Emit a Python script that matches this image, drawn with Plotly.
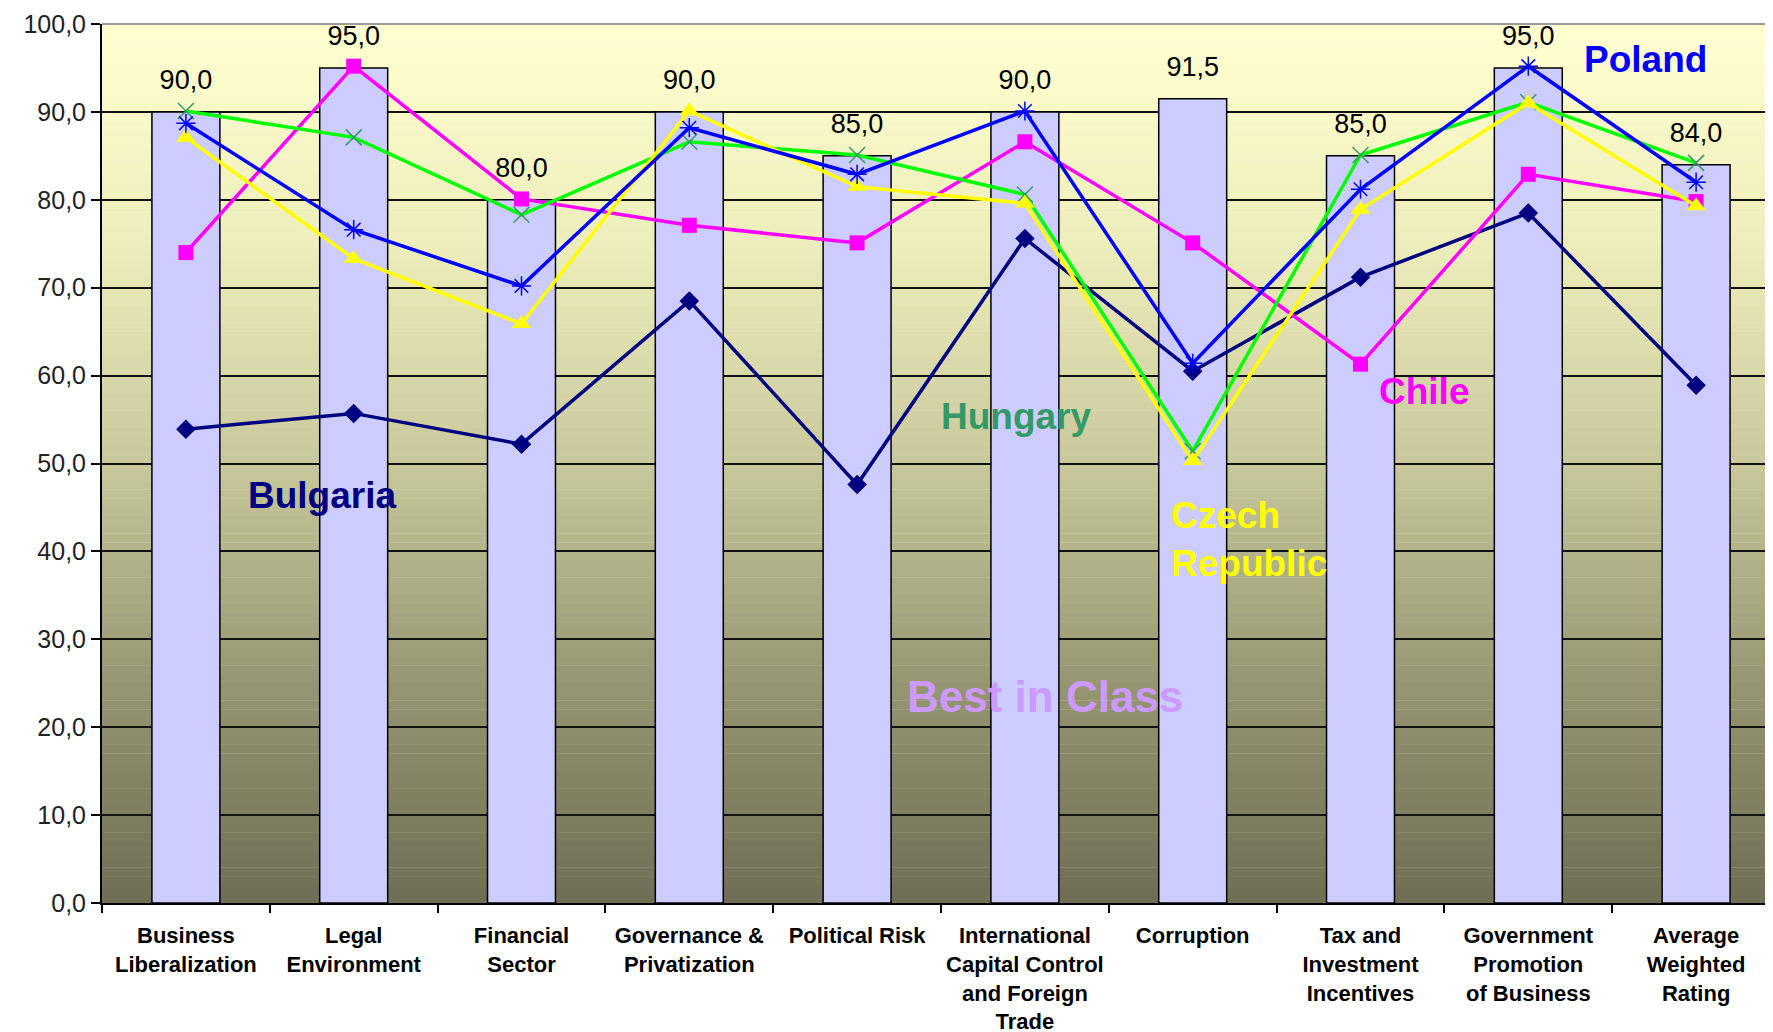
import plotly.graph_objects as go

categories = ["Business<br>Liberalization", "Legal<br>Environment", "Financial<br>Sector",
              "Governance &<br>Privatization", "Political Risk",
              "International<br>Capital Control<br>and Foreign<br>Trade", "Corruption",
              "Tax and<br>Investment<br>Incentives", "Government<br>Promotion<br>of Business",
              "Average<br>Weighted<br>Rating"]
best_in_class = [90.0, 95.0, 80.0, 90.0, 85.0, 90.0, 91.5, 85.0, 95.0, 84.0]
bulgaria = [53.9, 55.7, 52.2, 68.5, 47.6, 75.6, 60.5, 71.2, 78.5, 58.9]
chile = [74.0, 95.2, 80.1, 77.1, 75.1, 86.6, 75.1, 61.3, 82.9, 79.8]
hungary = [90.1, 87.1, 78.3, 86.6, 85.1, 80.6, 51.4, 85.1, 91.1, 84.2]
czech = [87.1, 73.3, 65.9, 90.1, 81.5, 79.6, 50.3, 78.9, 91.0, 79.3]
poland = [88.7, 76.6, 70.2, 88.2, 82.9, 90.1, 61.4, 81.2, 95.2, 82.0]
y_ticks = [0, 10, 20, 30, 40, 50, 60, 70, 80, 90, 100]

x_idx = list(range(len(categories)))

fig = go.Figure()

fig.add_trace(go.Bar(
    x=x_idx, y=best_in_class, name="Best in Class",
    marker=dict(color="#CCCCFF", line=dict(color="#000000", width=1.5)),
    hoverinfo="skip",
))

# data labels above bars
fig.add_trace(go.Scatter(
    x=x_idx, y=best_in_class, mode="markers+text",
    text=[f"{v:.1f}".replace(".", ",") for v in best_in_class],
    textposition="top center",
    textfont=dict(family="Liberation Sans, Arial, sans-serif", size=27, color="#000000"),
    marker=dict(size=24, color="rgba(0,0,0,0)"),
    cliponaxis=False,
    hoverinfo="skip", showlegend=False,
))

series = [
    ("Bulgaria", bulgaria, "#000080", dict(symbol="diamond", size=15, color="#000080")),
    ("Chile", chile, "#FF00FF", dict(symbol="square", size=15, color="#FF00FF")),
    ("Hungary", hungary, "#00FF00", dict(symbol="x-thin-open", size=16, color="#339966",
                                         line=dict(color="#339966", width=1.5))),
    ("Czech Republic", czech, "#FFFF00", dict(symbol="triangle-up", size=17, color="#FFFF00")),
    ("Poland", poland, "#0000FF", dict(symbol="asterisk-open", size=16, color="#0000FF",
                                       line=dict(color="#0000FF", width=1.5))),
]
for name, vals, col, mk in series:
    fig.add_trace(go.Scatter(
        x=x_idx, y=vals, name=name, mode="lines+markers",
        line=dict(color=col, width=3.5), marker=mk, cliponaxis=False,
    ))

# gradient plot background via bands
stops = [(0, (110, 110, 84)), (25, (150, 150, 114)), (50, (200, 200, 156)),
         (75, (238, 238, 188)), (100, (255, 255, 208))]

def col_at(v):
    for (a, ca), (b, cb) in zip(stops[:-1], stops[1:]):
        if a <= v <= b:
            t = (v - a) / (b - a)
            return "rgb(%d,%d,%d)" % tuple(round(ca[i] + (cb[i] - ca[i]) * t) for i in range(3))
    return "rgb(255,255,208)"

shapes = []
n_bands = 100
for i in range(n_bands):
    y0 = 100 * i / n_bands
    y1 = 100 * (i + 1) / n_bands
    shapes.append(dict(type="rect", xref="paper", yref="y", x0=0, x1=1, y0=y0, y1=y1 + 0.05,
                       fillcolor=col_at((y0 + y1) / 2), line=dict(width=0), layer="below"))
# gray top/right border
shapes.append(dict(type="line", xref="paper", yref="paper", x0=0, x1=1, y0=1, y1=1,
                   line=dict(color="#9A9A9A", width=2), layer="above"))
shapes.append(dict(type="line", xref="paper", yref="paper", x0=1, x1=1, y0=0, y1=1,
                   line=dict(color="#9A9A9A", width=2), layer="above"))

bold = "Liberation Sans, Arial, sans-serif"
annotations = [
    dict(x=8.70, y=96.0, text="<b>Poland</b>", font=dict(color="#0000FF", size=37, family=bold)),
    dict(x=4.95, y=55.4, text="<b>Hungary</b>", font=dict(color="#339966", size=37, family=bold)),
    dict(x=7.38, y=58.2, text="<b>Chile</b>", font=dict(color="#FF00FF", size=37, family=bold)),
    dict(x=0.81, y=46.4, text="<b>Bulgaria</b>", font=dict(color="#000080", size=37, family=bold)),
    dict(x=5.86, y=41.3, text="<b>Czech<br>Republic</b>", xanchor="left", align="left",
         font=dict(color="#FFFF00", size=37, family=bold)),
    dict(x=5.12, y=23.5, text="<b>Best in Class</b>", font=dict(color="#CC99FF", size=44, family=bold)),
]
for a in annotations:
    a.update(xref="x", yref="y", showarrow=False)

fig.update_layout(
    width=1773, height=1032,
    margin=dict(l=94, r=1, t=16, b=137),
    paper_bgcolor="#FFFFFF",
    plot_bgcolor="rgba(0,0,0,0)",
    showlegend=False,
    separators=",.",
    bargap=0.595,
    shapes=shapes,
    annotations=annotations,
    xaxis=dict(
        type="linear", range=[-0.5, len(categories) - 0.5],
        tickmode="array", tickvals=x_idx, ticktext=["<b>%s</b>" % c for c in categories],
        ticks="", showgrid=False, showline=True, linecolor="#000000", linewidth=2,
        tickfont=dict(family=bold, size=22, color="#000000"),
        ticklabelstandoff=12,
        zeroline=False,
    ),
    yaxis=dict(
        range=[0, 100], tickmode="array", tickvals=y_ticks, tickformat=".1f",
        showgrid=True, gridcolor="#111111", gridwidth=1.8,
        showline=True, linecolor="#000000", linewidth=2,
        ticks="outside", ticklen=9, tickwidth=2, tickcolor="#000000",
        tickfont=dict(family="Liberation Sans, Arial, sans-serif", size=25, color="#222222"),
        zeroline=False,
    ),
)

# x tick marks at category boundaries, drawn via a second x axis
fig.update_layout(xaxis2=dict(
    overlaying="x", range=[-0.5, len(categories) - 0.5],
    tickmode="array", tickvals=[i - 0.5 for i in range(len(categories) + 1)],
    ticktext=[""] * (len(categories) + 1), ticks="outside", ticklen=9, tickwidth=2,
    tickcolor="#000000", showgrid=False, showline=False, side="bottom", zeroline=False,
))
fig.add_trace(go.Scatter(x=[None], y=[None], xaxis="x2", showlegend=False, hoverinfo="skip"))

fig.write_html("out.html")
